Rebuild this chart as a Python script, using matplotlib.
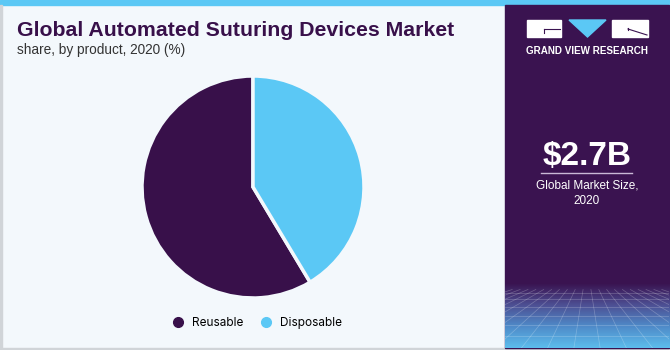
import numpy as np
import matplotlib.pyplot as plt
from matplotlib.patches import Rectangle, Polygon
from matplotlib.lines import Line2D
from matplotlib.colors import LinearSegmentedColormap

#===========================
# DATA
#===========================
labels = ["Reusable", "Disposable"]
shares = [58.6, 41.4]
colors = ["#38104a", "#5bc8f5"]
market_size = "$2.7B"

BG = "#f3f8fc"
PANEL = "#3a1350"
W, H = 670, 350

fig = plt.figure(figsize=(6.7, 3.5), dpi=100)
fig.patch.set_facecolor(BG)

def fx(px):
    return px / W

def fy(py):
    return 1 - py / H

# overlay axes in pixel coords
over = fig.add_axes([0, 0, 1, 1])
over.set_xlim(0, W)
over.set_ylim(H, 0)
over.axis("off")

# top blue strip and left/bottom border
over.add_patch(Rectangle((0, 0), W, 5, color="#5bc8f5", zorder=1))
over.add_patch(Rectangle((0, 5), 1.5, H, color="#d0d4d8", zorder=1))
over.add_patch(Rectangle((0, H - 2), W, 2, color="#d0d4d8", zorder=1))

# right panel
over.add_patch(Rectangle((505, 5), 164, 343, color=PANEL, zorder=1))

# gradient footer in panel
grad = over.inset_axes([505, 283, 164, 65], transform=over.transData)
g = np.linspace(0, 1, 100)[:, None]
cmap = LinearSegmentedColormap.from_list("gv", [PANEL, "#4d4f93", "#4f8ac8", "#5cbcec"])
grad.imshow(g, aspect="auto", cmap=cmap, extent=[0, 1, 0, 1], origin="upper")
# faint perspective grid
for k in np.linspace(-1.5, 2.5, 26):
    grad.plot([0.5 + (k - 0.5) * 0.3, k], [0.9, 0], color="white", alpha=0.25, lw=0.5)
for yy in [0.85, 0.75, 0.63, 0.5, 0.35, 0.18]:
    grad.plot([0, 1], [yy, yy], color="white", alpha=0.25, lw=0.5)
grad.set_xlim(0, 1)
grad.set_ylim(0, 1)
grad.axis("off")

# logo
over.add_patch(Rectangle((527, 20), 34, 17, color="white", zorder=2))
over.plot([544, 560], [29, 29], color=PANEL, lw=0.8, zorder=3)
over.plot([544, 544], [29, 33], color=PANEL, lw=0.8, zorder=3)
over.add_patch(Polygon([[569, 20], [606, 20], [587.5, 37]], color="#5bc8f5", zorder=2))
over.add_patch(Rectangle((612, 20), 36, 17, color="white", zorder=2))
over.plot([628, 647], [29, 35], color=PANEL, lw=0.8, zorder=3)
over.plot([628, 628], [28, 30], color=PANEL, lw=0.8, zorder=3)
over.text(587.5, 51, "GRAND VIEW RESEARCH", color="white", fontsize=7.1,
          fontweight="bold", ha="center", va="center", family="Liberation Sans", zorder=3)

# market size
over.text(587, 156, market_size, color="white", fontsize=24, fontweight="bold",
          ha="center", va="center", family="Liberation Sans", zorder=3)
over.plot([541, 632], [173, 173], color="#c9b9d6", lw=1, zorder=3)
over.text(587, 186, "Global Market Size,", color="white", fontsize=8.5,
          ha="center", va="center", family="Liberation Sans", zorder=3)
over.text(587, 201, "2020", color="white", fontsize=8.5,
          ha="center", va="center", family="Liberation Sans", zorder=3)

# source
over.text(518, 316, "Source:", color="white", fontsize=8, fontweight="bold",
          ha="left", va="center", family="Liberation Sans", zorder=3)
over.text(518, 331, "www.grandviewresearch.com", color="white", fontsize=8,
          ha="left", va="center", family="Liberation Sans", zorder=3)

# titles
over.text(17, 30, "Global Automated Suturing Devices Market", color="#38104a",
          fontsize=15.3, fontweight="bold", ha="left", va="center",
          family="Liberation Sans", zorder=3)
over.text(17, 50, "share, by product, 2020 (%)", color="#333333", fontsize=9.8,
          ha="left", va="center", family="Liberation Sans", zorder=3)

#===========================
# PIE
#===========================
cx, cy, r = 253, 187, 111
ax = fig.add_axes([fx(cx - r), fy(cy + r), 2 * r / W, 2 * r / H])
ax.pie(shares, colors=colors, startangle=90,
       wedgeprops=dict(edgecolor=BG, linewidth=2.5))
ax.set_xlim(-1, 1)
ax.set_ylim(-1, 1)
ax.axis("off")

handles = [Line2D([], [], marker="o", linestyle="", markersize=7,
                  markerfacecolor=c, markeredgecolor=c) for c in colors]
fig.legend(handles, labels, loc="center", bbox_to_anchor=(fx(254), fy(323)),
           ncol=2, frameon=False, handletextpad=0.2,
           columnspacing=0.9, prop={"family": "Inter", "size": 8.5})

fig.savefig("out.png", dpi=100, facecolor=BG)
